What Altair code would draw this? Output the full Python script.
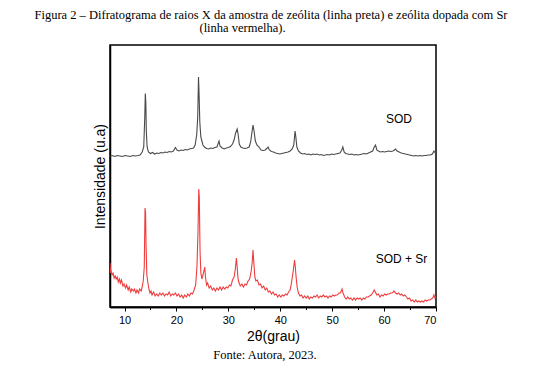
import altair as alt
import pandas as pd

# ---- data (arbitrary intensity units) ----
sod_2theta = [7.2, 7.6, 8.1, 8.6, 9.1, 9.6, 10.1, 10.6, 11.1, 11.6, 12.1, 12.6, 13.0, 13.4, 13.7, 13.9, 14.0, 14.1, 14.2, 14.35,
              14.6, 15.0, 15.4, 15.8, 16.2, 16.6, 17.0, 17.4, 17.8, 18.2, 18.6, 19.0, 19.4, 19.8, 20.1, 20.5, 20.9, 21.3, 21.7, 22.1,
              22.5, 22.9, 23.3, 23.6, 23.9, 24.1, 24.25, 24.35, 24.5, 24.7, 24.9, 25.1, 25.4, 25.8, 26.2, 26.6, 27.0, 27.4, 27.8, 28.2,
              28.4, 28.8, 29.2, 29.6, 30.0, 30.4, 30.8, 31.1, 31.4, 31.7, 31.9, 32.1, 32.4, 32.8, 33.2, 33.6, 34.0, 34.3, 34.55, 34.75,
              34.95, 35.2, 35.5, 35.9, 36.3, 36.7, 37.1, 37.4, 37.65, 37.9, 38.3, 38.7, 39.1, 39.5, 39.9, 40.3, 40.7, 41.1, 41.5, 41.9,
              42.3, 42.6, 42.85, 43.0, 43.2, 43.5, 43.9, 44.3, 44.7, 45.1, 45.5, 45.9, 46.3, 46.7, 47.1, 47.5, 47.9, 48.3, 48.7, 49.1,
              49.5, 49.9, 50.3, 50.7, 51.1, 51.5, 51.85, 52.05, 52.3, 52.6, 53.0, 53.4, 53.8, 54.2, 54.6, 55.0, 55.4, 55.8, 56.2, 56.6,
              57.0, 57.4, 57.8, 58.1, 58.35, 58.6, 58.9, 59.3, 59.7, 60.1, 60.5, 60.9, 61.3, 61.7, 62.0, 62.2, 62.5, 62.9, 63.3, 63.7,
              64.1, 64.5, 64.9, 65.3, 65.7, 66.1, 66.5, 66.9, 67.3, 67.7, 68.1, 68.5, 68.9, 69.3, 69.6, 69.8, 70.0]
sod_int = [151, 151.5, 150.5, 151.5, 151, 150.5, 151.5, 151, 150.5, 151.5, 151, 151.5, 152, 155, 160, 190, 213.5, 205, 175, 160,
           155, 153.5, 154.5, 153, 154, 153.5, 154.5, 154, 155, 154.5, 155.5, 155, 156, 159.5, 157, 156, 157, 156.5, 157.5, 157,
           158, 158.5, 159, 162, 172, 190, 230, 215, 185, 170, 166, 162, 160, 158.5, 158, 159, 158.5, 159.5, 160, 166,
           161, 159, 158, 159, 159.5, 160.5, 163, 167, 174, 178, 172, 163, 160, 159, 158.5, 159, 160, 165, 175, 182,
           176, 166, 162, 160, 157, 156.5, 157, 158.5, 160, 157, 155.5, 155, 154, 153.5, 153, 153.5, 154, 154.5, 155, 156,
           158, 162, 176, 170, 160, 156, 154, 153, 153.5, 152.5, 153, 152, 153, 152.5, 153, 152, 152.5, 151.5, 152, 152.5,
           152, 153, 152.5, 153, 153.5, 154, 157, 160, 155, 153.5, 153, 152.5, 153, 152, 152.5, 152, 152.5, 153, 153.5, 153,
           154, 155, 156, 160, 162, 157, 156, 155, 155.5, 155, 155.5, 156, 155.5, 156, 157, 158, 156, 155, 154, 153.5,
           153, 152.5, 152, 151.5, 151, 151.5, 151, 151.5, 151, 151.5, 151.5, 152, 152, 153, 156, 154.5, 155]

sr_2theta = [7.2, 7.3, 7.4, 7.6, 7.8, 8.0, 8.2, 8.4, 8.6, 8.8, 9.0, 9.2, 9.4, 9.7, 9.9, 10.2, 10.4, 10.7, 10.9, 11.2,
             11.4, 11.7, 11.9, 12.2, 12.4, 12.7, 12.9, 13.2, 13.4, 13.6, 13.8, 13.95, 14.05, 14.15, 14.3, 14.5, 14.7, 14.9, 15.1, 15.3,
             15.6, 15.9, 16.2, 16.5, 16.8, 17.1, 17.4, 17.7, 18.0, 18.3, 18.6, 18.9, 19.2, 19.5, 19.8, 20.1, 20.4, 20.7, 21.0, 21.3,
             21.6, 21.9, 22.2, 22.5, 22.8, 23.1, 23.4, 23.7, 23.95, 24.15, 24.3, 24.4, 24.55, 24.7, 24.9, 25.1, 25.3, 25.45, 25.6, 25.8,
             26.0, 26.3, 26.6, 26.9, 27.2, 27.5, 27.8, 28.1, 28.4, 28.7, 29.0, 29.3, 29.6, 29.9, 30.2, 30.5, 30.8, 31.1, 31.35, 31.55,
             31.7, 31.85, 32.0, 32.3, 32.6, 32.9, 33.2, 33.5, 33.8, 34.1, 34.4, 34.6, 34.75, 34.9, 35.1, 35.3, 35.6, 35.9, 36.2, 36.5,
             36.8, 37.1, 37.4, 37.7, 38.0, 38.3, 38.6, 38.9, 39.2, 39.5, 39.8, 40.1, 40.4, 40.7, 41.0, 41.3, 41.6, 41.9, 42.15, 42.35,
             42.55, 42.75, 42.9, 43.05, 43.25, 43.5, 43.8, 44.1, 44.4, 44.7, 45.0, 45.3, 45.6, 45.9, 46.2, 46.5, 46.8, 47.1, 47.4, 47.7,
             48.0, 48.3, 48.6, 48.9, 49.2, 49.5, 49.8, 50.1, 50.4, 50.7, 51.0, 51.3, 51.6, 51.9, 52.1, 52.4, 52.7, 53.0, 53.3, 53.6,
             53.9, 54.2, 54.5, 54.8, 55.1, 55.4, 55.7, 56.0, 56.3, 56.6, 56.9, 57.2, 57.5, 57.8, 58.1, 58.3, 58.6, 58.9, 59.2, 59.5,
             59.8, 60.1, 60.4, 60.7, 61.0, 61.3, 61.6, 61.9, 62.2, 62.5, 62.8, 63.1, 63.4, 63.7, 64.0, 64.3, 64.6, 64.9, 65.2, 65.5,
             65.8, 66.1, 66.4, 66.7, 67.0, 67.3, 67.6, 67.9, 68.2, 68.5, 68.8, 69.1, 69.4, 69.6, 69.8, 70.0]
sr_int = [44, 34, 36, 32, 34, 29, 31, 28, 30, 25, 28, 24, 27, 21, 23, 19, 22, 17, 20, 15,
          18, 16, 18, 14, 17, 14, 18, 16, 20, 26, 40, 99, 95, 60, 32, 24, 18, 14, 16, 12,
          15, 11, 13, 11, 14, 12, 14, 11, 13, 12, 15, 11, 13, 12, 14, 11, 13, 10, 12, 9,
          12, 10, 13, 11, 14, 13, 17, 22, 40, 75, 118, 110, 55, 34, 28, 32, 36, 40, 30, 22,
          24, 19, 21, 17, 19, 16, 19, 17, 20, 17, 20, 18, 20, 19, 22, 21, 27, 30, 38, 49,
          40, 29, 25, 21, 23, 20, 23, 22, 26, 28, 36, 45, 57, 45, 30, 26, 27, 22, 23, 19,
          21, 17, 19, 15, 16, 13, 15, 12, 13, 10, 12, 10, 12, 11, 13, 12, 15, 17, 24, 31,
          38, 47, 40, 30, 20, 14, 11, 12, 9, 11, 9, 11, 8, 10, 9, 11, 10, 12, 9, 11,
          10, 12, 10, 11, 9, 11, 10, 12, 11, 12, 12, 14, 14, 18, 14, 10, 8, 10, 8, 9,
          7, 9, 7, 9, 8, 9, 7, 9, 8, 10, 10, 11, 12, 14, 17, 15, 12, 13, 10, 12,
          11, 13, 12, 13, 13, 14, 14, 16, 14, 13, 14, 12, 13, 11, 12, 10, 8, 9, 6, 7,
          5, 7, 5, 6, 5, 6, 5, 7, 6, 7, 7, 8, 9, 12, 9, 11]

x_major = [10, 20, 30, 40, 50, 60, 70]
x_minor = [15, 25, 35, 45, 55, 65]

title_line1 = "Figura 2 – Difratograma de raios X da amostra de zeólita (linha preta) e zeólita dopada com Sr"
title_line2 = "(linha vermelha)."
footer = "Fonte: Autora, 2023."

sod = pd.DataFrame({"t": sod_2theta, "i": sod_int})
sr = pd.DataFrame({"t": sr_2theta, "i": sr_int})

xscale = alt.Scale(domain=[7.2, 70], nice=False, zero=False)
yscale = alt.Scale(domain=[0, 262], nice=False, zero=False)

black = alt.Chart(sod).mark_line(color="#4a4a4a", strokeWidth=1.1, clip=True).encode(
    x=alt.X("t:Q", scale=xscale,
            axis=alt.Axis(values=x_major, orient="bottom", title="2θ(grau)", tickSize=4,
                          labelPadding=3, titlePadding=4, format="d")),
    y=alt.Y("i:Q", scale=yscale,
            axis=alt.Axis(ticks=False, labels=False, title="Intensidade (u.a)", titlePadding=3,
                          orient="left")),
)

red = alt.Chart(sr).mark_line(color="#f03c3c", strokeWidth=1.1, clip=True).encode(
    x=alt.X("t:Q", scale=xscale,
            axis=alt.Axis(values=x_minor, orient="bottom", labels=False, title=None, tickSize=2.5)),
    y=alt.Y("i:Q", scale=yscale, axis=None),
)

one = alt.Data(values=[{}])


def txt(s, x, y, size, font, baseline="middle", align="center"):
    return alt.Chart(one).mark_text(
        text=s, font=font, fontSize=size, color="black", baseline=baseline, align=align
    ).encode(x=alt.value(x), y=alt.value(y))


serif = "Liberation Serif"
sans = "Liberation Sans"

layers = [
    black,
    red,
    txt("SOD", 289, 74, 12, sans),
    txt("SOD + Sr", 291.5, 213.5, 12, sans),
    txt(title_line1, 161, -26.5, 12.5, serif, baseline="alphabetic"),
    txt(title_line2, 132.5, -13, 12.5, serif, baseline="alphabetic"),
    txt(footer, 155, 314, 12.5, serif, baseline="alphabetic"),
]

chart = alt.layer(*layers).resolve_axis(x="independent", y="independent").properties(
    width=326,
    height=262,
    autosize=alt.AutoSizeParams(type="none"),
    padding={"left": 102, "top": 37, "right": 104, "bottom": 58},
    background="white",
).configure_view(
    stroke="black", strokeWidth=1.5
).configure_axis(
    grid=False,
    domainColor="black",
    domainWidth=1.5,
    tickColor="black",
    tickWidth=1,
    labelColor="black",
    labelFont=sans,
    labelFontSize=11,
    titleColor="black",
    titleFont=sans,
    titleFontSize=14,
    titleFontWeight="normal",
)

chart.save("out.html", embed_options={"renderer": "svg", "actions": False})
